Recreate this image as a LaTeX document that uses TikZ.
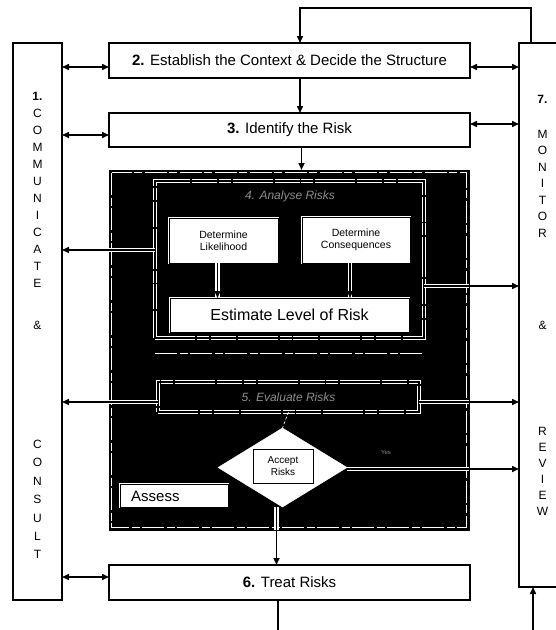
\documentclass[tikz,border=0pt]{standalone}
\usepackage{fontspec}
\setmainfont{Liberation Sans}
\usetikzlibrary{arrows.meta,calc,shapes.geometric}
\definecolor{faint}{gray}{0.55}

\begin{document}
\begin{tikzpicture}[x=1pt,y=-1pt,
  box/.style={draw=black, line width=1.2pt, fill=white, inner sep=0pt, outer sep=0pt},
  whitebox/.style={fill=white, draw=white, double=black, double distance=0.9pt, line width=0.6pt, inner sep=0pt, outer sep=0pt},
  frame/.style={draw=white, double=black, double distance=2.2pt, line width=0.6pt, inner sep=0pt, outer sep=0pt,
    dash pattern=on 40pt off 2pt on 12pt off 1.5pt on 25pt off 2pt},
  wdash/.style={draw=white, line width=0.6pt, dash pattern=on 22pt off 3pt on 8pt off 2pt},
  wthin/.style={draw=white, line width=0.6pt, dash pattern=on 3pt off 2pt},
  conn/.style={line width=1.5pt},
  arr/.style={conn, -{Triangle[length=7pt,width=6pt]}},
  dbl/.style={conn, {Triangle[length=7pt,width=6pt]}-{Triangle[length=7pt,width=6pt]}},
  halo/.style={draw=white, line width=4.6pt},
  coltxt/.style={font=\fontsize{12}{14}\selectfont, align=center, inner sep=0pt, anchor=north},
  big/.style={font=\fontsize{15}{18}\selectfont},
  small/.style={font=\fontsize{10.5}{12.5}\selectfont, align=center},
  faintlabel/.style={font=\fontsize{12}{14}\selectfont\itshape, text=faint, inner sep=0pt}
]
\useasboundingbox (0,0) rectangle (556,630);
\fill[white] (0,0) rectangle (556,630);
\clip (0,0) rectangle (556,630);

% side columns
\node[box, minimum width=49pt, minimum height=557pt] (cc) at (37.5,321.5) {};
\node[box, minimum width=47pt, minimum height=544pt] (mr) at (542.5,315) {};

\node[coltxt] (cctop) at (37.5,92) {\textbf{1.}\\[3pt]C\\[3pt]O\\[3pt]M\\[3pt]M\\[3pt]U\\[3pt]N\\[3pt]I\\[3pt]C\\[3pt]A\\[3pt]T\\[3pt]E};
\node[coltxt, anchor=center] (ccamp) at (37.5,325) {\&};
\node[coltxt] (ccbot) at (37.5,440) {C\\[4.4pt]O\\[4.4pt]N\\[4.4pt]S\\[4.4pt]U\\[4.4pt]L\\[4.4pt]T};

\node[coltxt] (mrnum) at (542.5,95) {\textbf{7.}};
\node[coltxt] (mrtop) at (542.5,130) {M\\[2.5pt]O\\[2.5pt]N\\[2.5pt]I\\[2.5pt]T\\[2.5pt]O\\[2.5pt]R};
\node[coltxt, anchor=center] (mramp) at (542.5,325) {\&};
\node[coltxt] (mrbot) at (542.5,427) {R\\[2pt]E\\[2pt]V\\[2pt]I\\[2pt]E\\[2pt]W};

% process steps
\node[box, big, minimum width=361pt, minimum height=35pt] (b2) at (289.5,60.5) {\textbf{2.} Establish the Context \& Decide the Structure};
\node[box, big, minimum width=361pt, minimum height=34pt] (b3) at (289.5,130) {\textbf{3.} Identify the Risk};
\node[box, big, minimum width=361pt, minimum height=35pt] (b6) at (289.5,582.5) {\textbf{6.} Treat Risks};

% assessment panel
\node[fill=black, draw=black, minimum width=360pt, minimum height=360pt, inner sep=0pt, outer sep=0pt] (ev) at (289,350) {};
\draw[wdash] (111.5,172.5) rectangle (466.5,527.5);

% analysis
\node[frame, minimum width=269pt, minimum height=157pt] (an) at (289.5,259.5) {};
\node[faintlabel] (antitle) at (290,196) {4. Analyse Risks};
\node[whitebox, small, minimum width=109pt, minimum height=45pt] (dl) at (223.5,240.5) {Determine\\Likelihood};
\node[whitebox, small, minimum width=108pt, minimum height=46pt] (dc) at (356,240) {Determine\\Consequences};
\node[whitebox, font=\fontsize{16}{19}\selectfont, minimum width=239pt, minimum height=34pt] (el) at (289.5,315) {Estimate Level of Risk};
\draw[wdash] (155,353) -- (424,353);

% evaluation
\node[frame, fill=black, minimum width=261pt, minimum height=30pt] (evr) at (288.5,397) {};
\node[faintlabel] (evtitle) at (evr) {5. Evaluate Risks};

\node[diamond, fill=white, draw=white, minimum width=129pt, minimum height=79pt, inner sep=0pt, outer sep=0pt] (dia) at (282.5,467.5) {};
\node[box, line width=0.9pt, font=\fontsize{10}{12}\selectfont, align=center, minimum width=60pt, minimum height=34pt] (acc) at (283,466) {Accept\\Risks};
\node[font=\fontsize{6}{7}\selectfont, text=faint, inner sep=0pt] (yes) at (386,452) {Yes};

\node[whitebox, minimum width=108pt, minimum height=23pt] (as) at (174,495.5) {};
\node[big, anchor=west, inner sep=0pt] (astext) at (131,496.5) {Assess};

% white outlines of the connectors crossing the dark panel
\draw[halo] ([yshift=9.5pt]an.west) -- ([yshift=9.5pt]an.west -| ev.west);
\draw[halo] ([yshift=-26.5pt]an.east) -- ([yshift=-26.5pt]an.east -| ev.east);
\draw[halo] ([yshift=-5pt]evr.west) -- ([yshift=-5pt]evr.west -| ev.west);
\draw[halo] ([yshift=-5pt]evr.east) -- ([yshift=-5pt]evr.east -| ev.east);
\draw[halo] ([yshift=-1.5pt]dia.east) -- ([yshift=-1.5pt]dia.east -| ev.east);
\draw[halo] ([xshift=-6pt]dl.south) -- ([xshift=-6pt]dl.south |- el.north);
\draw[halo] ([xshift=-6pt]dc.south) -- ([xshift=-6pt]dc.south |- el.north);
\draw[halo] ([xshift=-6pt]dia.south) -- ([xshift=-6pt]dia.south |- ev.south);
\draw[wthin] (evr.south) -- (dia.north);

% connectors
\draw[arr] ([xshift=-11.5pt]mr.north) -- ++(0,-35) -| ([xshift=10.5pt]b2.north);
\draw[arr] ([xshift=10.5pt]b2.south) -- ([xshift=10.5pt]b3.north);
\draw[arr] ([xshift=12pt]b3.south) -- ([xshift=12pt]b3.south |- ev.north);

\draw[dbl] ([yshift=-6.5pt]b2.west) -- ([yshift=-6.5pt]b2.west -| cc.east);
\draw[dbl] ([yshift=-6.5pt]b2.east) -- ([yshift=-6.5pt]b2.east -| mr.west);
\draw[dbl] ([yshift=-5pt]b3.west) -- ([yshift=-5pt]b3.west -| cc.east);
\draw[dbl] ([yshift=6pt]b3.east) -- ([yshift=6pt]b3.east -| mr.west);
\draw[dbl] ([yshift=5.5pt]b6.west) -- ([yshift=5.5pt]b6.west -| cc.east);

\draw[arr] ([yshift=9.5pt]an.west) -- ([yshift=9.5pt]an.west -| cc.east);
\draw[arr] ([yshift=-26.5pt]an.east) -- ([yshift=-26.5pt]an.east -| mr.west);
\draw[arr] ([yshift=-5pt]evr.west) -- ([yshift=-5pt]evr.west -| cc.east);
\draw[arr] ([yshift=-5pt]evr.east) -- ([yshift=-5pt]evr.east -| mr.west);
\draw[arr] ([yshift=-1.5pt]dia.east) -- ([yshift=-1.5pt]dia.east -| mr.west);

\draw[arr] ([xshift=-6pt]dl.south) -- ([xshift=-6pt]dl.south |- el.north);
\draw[arr] ([xshift=-6pt]dc.south) -- ([xshift=-6pt]dc.south |- el.north);
\draw[arr] ([xshift=-6pt]dia.south) -- ([xshift=-6pt]dia.south |- b6.north);

% loop back from treatment to monitoring
\coordinate (outA) at (278,630);
\coordinate (outB) at (533,630);
\draw[conn] (b6.south -| outA) -- (outA);
\draw[arr] (outB) -- (outB |- mr.south);
\end{tikzpicture}
\end{document}
